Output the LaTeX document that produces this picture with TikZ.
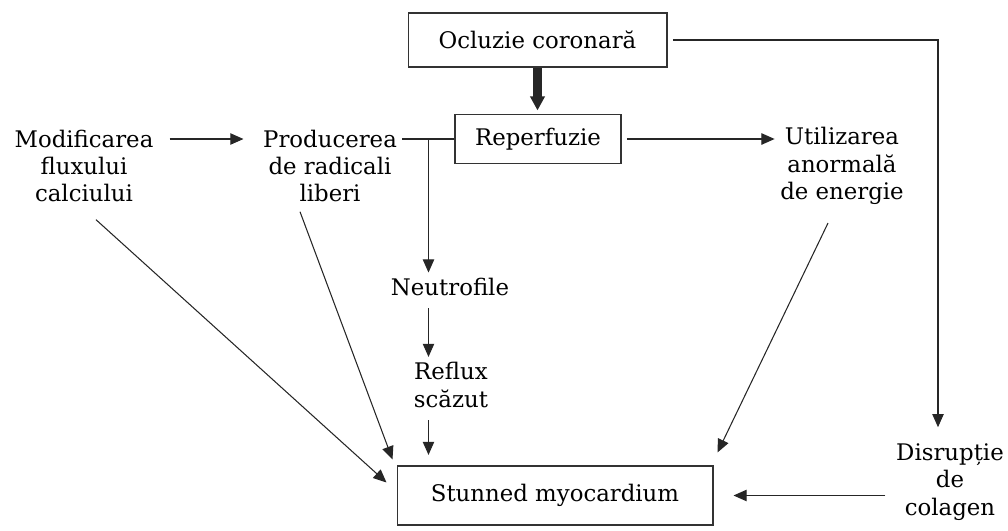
\documentclass[tikz,border=0pt]{standalone}
\usepackage{fontspec}
\setmainfont{DejaVu Serif}
\usetikzlibrary{arrows.meta}

\begin{document}
\begin{tikzpicture}[
			x=0.02cm, y=-0.02cm,
			font=\fontsize{13}{15.5}\selectfont,
			box/.style={draw=black!80, line width=0.6pt, inner sep=0pt},
			txt/.style={align=center, inner sep=3pt},
			plain/.style={draw=black!85, line width=0.6pt},
			link/.style={plain, -{Triangle[length=7.5pt,width=6.5pt]}},
			heavy/.style={draw=black!85, line width=5pt, -{Triangle[length=8pt,width=8pt]}}
		]
		\useasboundingbox (0,0) rectangle (1008,531);

		% boxed steps
		\node[box, minimum width=5.18cm, minimum height=1.08cm] (ocl) at (537.5,40) {Ocluzie coronară};
		\node[box, minimum width=3.32cm, minimum height=0.98cm] (rep) at (538,139) {Reperfuzie};
		\node[box, minimum width=6.32cm, minimum height=1.18cm] (stun) at (555,495.5) {Stunned myocardium};

		% free text
		\node[txt] (mod) at (84,166) {Modificarea\\fluxului\\calciului};
		\node[txt] (prod) at (330,166) {Producerea\\de radicali\\liberi};
		\node[txt] (util) at (842,166) {Utilizarea\\anormală\\de energie};
		\node[txt] (neut) at (450,287) {Neutrofile};
		\node[txt] (refl) at (451,385) {Reflux\\scăzut};
		\node[txt] (disr) at (950,482) {Disrupție\\de\\colagen};

		\coordinate (split) at ([shift={(-26,0)}]rep.west);

		% connectors
		\draw[heavy, shorten >=2pt] (ocl.south) -- (ocl.south |- rep.north);
		\draw[link, shorten <=6pt, shorten >=8pt] (rep.west -| mod.east) -- (rep.west -| prod.west);
		\draw[plain] (rep.west -| prod.east) -- (rep.west);
		\draw[link, shorten <=3pt] (rep.east) -- (rep.east -| util.west);
		\draw[link] (split) -- (split |- neut.north);
		\draw[link, shorten <=4pt] (split |- neut.south) -- (split |- refl.north);
		\draw[link, shorten <=4pt, shorten >=6pt] (split |- refl.south) -- (split |- stun.north);
		\draw[link] ([shift={(12,12)}]mod.south) -- ([shift={(-10,-13)}]stun.west);
		\draw[link] ([shift={(-30,4)}]prod.south) -- ([shift={(-4,-6)}]stun.north west);
		\draw[link] ([shift={(-14,13)}]util.south) -- ([shift={(4,-13)}]stun.north east);
		\draw[link, shorten <=3pt] (ocl.east) -| ([shift={(-12,-11)}]disr.north);
		\draw[link, shorten <=3pt, shorten >=0.4cm] (stun.east -| disr.west) -- (stun.east);
	\end{tikzpicture}
\end{document}
